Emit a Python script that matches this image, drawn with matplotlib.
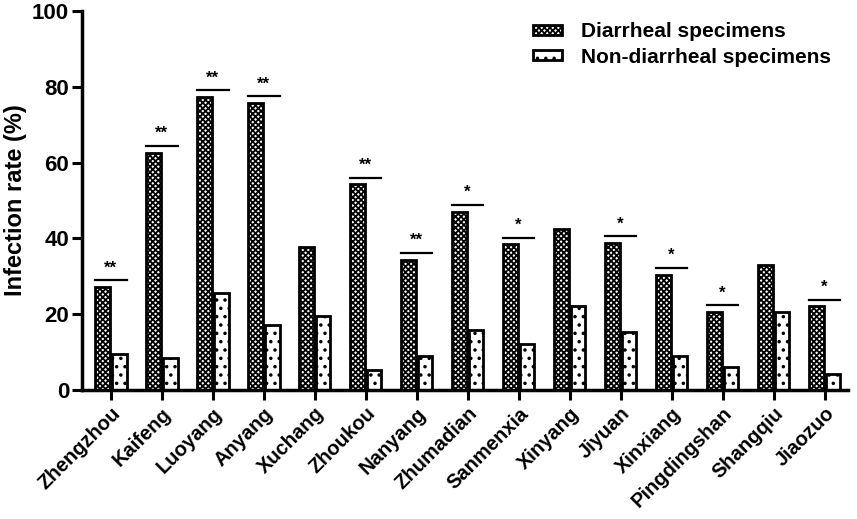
import numpy as np
import matplotlib
matplotlib.use('Agg')
import matplotlib.pyplot as plt

plt.rcParams['font.family'] = ['Liberation Sans', 'DejaVu Sans']
plt.rcParams['font.weight'] = 'bold'
plt.rcParams['hatch.linewidth'] = 1.3

cities = ['Zhengzhou', 'Kaifeng', 'Luoyang', 'Anyang', 'Xuchang', 'Zhoukou',
          'Nanyang', 'Zhumadian', 'Sanmenxia', 'Xinyang', 'Jiyuan', 'Xinxiang',
          'Pingdingshan', 'Shangqiu', 'Jiaozuo']
diarrheal = [27.3, 62.5, 77.3, 75.8, 37.6, 54.4, 34.3, 47.0, 38.6, 42.5,
             38.8, 30.3, 20.6, 32.9, 22.2]
non_diarrheal = [9.4, 8.4, 25.7, 17.1, 19.6, 5.4, 9.0, 15.8, 12.1, 22.2,
                 15.4, 8.9, 6.1, 20.5, 4.1]
# significance marks: (city index, line height, label)
sig_idx = [0, 1, 2, 3, 5, 6, 7, 8, 10, 11, 12, 14]
sig_y = [29.0, 64.5, 79.2, 77.5, 56.0, 36.2, 48.9, 40.2, 40.5, 32.3, 22.3, 23.8]
sig_lbl = ['**', '**', '**', '**', '**', '**', '*', '*', '*', '*', '*', '*']

fig = plt.figure(figsize=(8.57, 5.19), dpi=100)
ax = fig.add_axes([0.0953, 0.2486, 0.8942, 0.7302])

x = np.arange(len(cities))
w = 0.29
off = 0.165
ax.bar(x - off, diarrheal, w, facecolor='white', edgecolor='black',
       linewidth=2, hatch='xxxxxx', label='Diarrheal specimens', zorder=2)
ax.bar(x + off, non_diarrheal, w, facecolor='white', edgecolor='black',
       linewidth=2, hatch='..', label='Non-diarrheal specimens', zorder=2)

for i, yy, s in zip(sig_idx, sig_y, sig_lbl):
    ax.plot([i - off - w / 2, i + off + w / 2], [yy, yy], color='black', lw=1.6)
    ax.text(i, yy + 1.2, s, ha='center', va='bottom', fontsize=12,
            fontweight='bold')

ax.set_xlim(-0.57, 14.46)
ax.set_ylim(0, 100)
ax.set_yticks([0, 20, 40, 60, 80, 100])
ax.set_xticks(x)
ax.set_xticklabels(cities, rotation=45, ha='right', rotation_mode='anchor',
                   fontsize=14.5, fontweight='bold')
ax.tick_params(axis='y', labelsize=16, width=2.2, length=7, pad=2)
ax.tick_params(axis='x', width=2.2, length=7, pad=3)
for lab in ax.get_yticklabels():
    lab.set_fontweight('bold')
ax.set_ylabel('Infection rate (%)', fontsize=17, fontweight='bold')
ax.yaxis.set_label_coords(-0.071, 0.5)

for sp in ['top', 'right']:
    ax.spines[sp].set_visible(False)
for sp in ['left', 'bottom']:
    ax.spines[sp].set_linewidth(2.5)

ax.legend(loc='upper left', bbox_to_anchor=(0.589, 0.97), frameon=False,
          handlelength=1.4, handleheight=0.35, handletextpad=0.9,
          borderpad=0, borderaxespad=0, labelspacing=0.3,
          prop={'weight': 'bold', 'size': 15})

fig.savefig('out.png', dpi=100)
